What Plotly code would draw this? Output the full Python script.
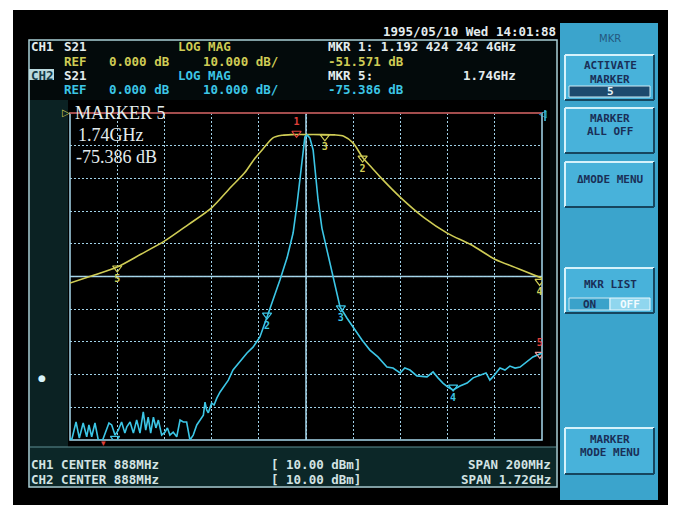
import plotly.graph_objects as go

# ---------------- data ----------------
# CH1: S21 LOG MAG, centre 888 MHz, span 200 MHz (yellow)
ch1_freq_mhz = [788, 798, 808, 818, 828, 838, 848, 856, 862, 866,
                870, 874, 878, 882, 888, 894, 900, 904, 908, 912,
                916, 920, 928, 938, 948, 958, 968, 978, 988]
ch1_db = [-52.0, -49.6, -47.1, -43.2, -39.2, -34.2, -29.0, -22.8, -18.3, -14.2,
          -10.8, -7.6, -6.8, -6.6, -6.6, -6.6, -6.7, -7.1, -9.2, -13.6,
          -16.8, -20.0, -25.8, -32.0, -36.8, -40.3, -44.7, -47.6, -50.5]

# CH2: S21 LOG MAG, centre 888 MHz, span 1.72 GHz (cyan)
ch2_freq_mhz = [28, 34, 50, 62, 76, 89, 97, 107, 119, 131,
                147, 162, 170, 180, 192, 204, 216, 228, 235, 247,
                259, 271, 283, 295, 304, 313, 322, 332, 341, 350,
                362, 374, 383, 392, 404, 417, 429, 441, 453, 465,
                477, 490, 502, 514, 520, 526, 532, 544, 553, 563,
                575, 593, 605, 622, 647, 673, 695, 720, 746, 768,
                793, 819, 841, 855, 866, 877, 884, 892, 902, 914,
                924, 932, 946, 965, 990, 1012, 1037, 1059, 1092, 1121,
                1150, 1183, 1205, 1231, 1248, 1267, 1292, 1329, 1351, 1369,
                1387, 1405, 1424, 1449, 1475, 1497, 1522, 1544, 1558, 1569,
                1595, 1613, 1631, 1650, 1668, 1693, 1715, 1748]
ch2_db = [-99.5, -100, -94.5, -99.4, -94.8, -99, -95.4, -99, -94.8, -100,
          -100, -96.3, -94.8, -95.4, -98.5, -97, -94.5, -97.9, -96, -94.5,
          -97.9, -93.9, -97.9, -91.4, -97, -93, -97.9, -93, -96.3, -93.9,
          -98.5, -97.6, -96.3, -98.5, -97.6, -99, -93.9, -94.5, -94.5, -100,
          -98.5, -95.4, -93.9, -92.4, -88.4, -90.8, -91.7, -88.7, -89.3, -87.2,
          -85.3, -83.2, -81.7, -78.6, -76.1, -73.4, -71.6, -68.5, -62.4, -57.2,
          -51.1, -44.3, -36.7, -28.1, -19.6, -11.9, -7.3, -6.7, -7.6, -11.3,
          -19, -26.6, -35.2, -41.9, -51.1, -59.3, -62.7, -65.4, -69.4, -72.5,
          -74.6, -77.7, -78, -79.5, -78, -78.6, -80.4, -80.7, -79.2, -81,
          -82.6, -83.8, -84.7, -83.5, -82.6, -81, -80.1, -79.5, -81.7, -80.7,
          -78, -78.6, -77.4, -78, -77.7, -76.1, -74.6, -73.4]

# markers
ch1_marker_labels = ["2", "3", "4", "5"]
ch1_marker_freq = [912, 896, 987, 808]
ch1_marker_db = [-13.8, -7.3, -51.5, -47.4]
ch1_active_label = ["1"]
ch1_active_freq = [884]
ch1_active_db = [-6.2]

ch2_marker_labels = ["1", "2", "3", "4"]
ch2_marker_freq = [192, 746, 1015, 1424]
ch2_marker_db = [-99.5, -61.8, -59.6, -83.8]
ch2_active_label = ["5"]
ch2_active_freq = [1740]
ch2_active_db = [-73.8]

ch1_axis_range = [788, 988]
ch2_axis_range = [28, 1748]
db_range = [-100, 0]

# ---------------- geometry helpers (pixel -> paper) ----------------
W, H = 676, 508
L, R, T, B = 70, 542, 113, 440


def px(x):
    return (x - L) / (R - L)


def py(y):
    return (B - y) / (B - T)


YEL = "#cfcc55"
CYN = "#3cc6e6"
RED = "#e0403a"
WHT = "#e4ecee"
MONO = "DejaVu Sans Mono"

fig = go.Figure()

fig.add_trace(go.Scatter(x=ch1_freq_mhz, y=ch1_db, mode="lines",
                         line=dict(color=YEL, width=1.6, shape="spline", smoothing=0.8),
                         xaxis="x", yaxis="y", hoverinfo="skip"))
fig.add_trace(go.Scatter(x=ch2_freq_mhz, y=ch2_db, mode="lines",
                         line=dict(color=CYN, width=1.6),
                         xaxis="x2", yaxis="y", hoverinfo="skip"))

mfont = dict(family=MONO, size=10, weight="bold")
fig.add_trace(go.Scatter(x=ch1_marker_freq, y=ch1_marker_db, mode="markers+text",
                         text=ch1_marker_labels, textposition="bottom center",
                         textfont=dict(color=YEL, **mfont),
                         marker=dict(symbol="triangle-down-open", size=8, color=YEL, line=dict(width=1.2)),
                         xaxis="x", yaxis="y", hoverinfo="skip"))
fig.add_trace(go.Scatter(x=ch1_active_freq, y=ch1_active_db, mode="markers+text",
                         text=ch1_active_label, textposition="top center",
                         textfont=dict(color=RED, **mfont),
                         marker=dict(symbol="triangle-down-open", size=8, color=RED, line=dict(width=1.2)),
                         xaxis="x", yaxis="y", hoverinfo="skip"))
fig.add_trace(go.Scatter(x=ch2_marker_freq, y=ch2_marker_db, mode="markers+text",
                         text=ch2_marker_labels, textposition="bottom center",
                         textfont=dict(color=CYN, **mfont),
                         marker=dict(symbol="triangle-down-open", size=8, color=CYN, line=dict(width=1.2)),
                         xaxis="x2", yaxis="y", hoverinfo="skip"))
fig.add_trace(go.Scatter(x=ch2_active_freq, y=ch2_active_db, mode="markers+text",
                         text=ch2_active_label, textposition="top center",
                         textfont=dict(color=RED, **mfont),
                         marker=dict(symbol="triangle-down-open", size=8, color="#e89a9a", line=dict(width=1.2)),
                         xaxis="x2", yaxis="y", hoverinfo="skip"))

shapes = []


def rect(x0, y0, x1, y1, fill, line=None, lw=0, layer="below"):
    shapes.append(dict(type="rect", xref="paper", yref="paper",
                       x0=px(x0), x1=px(x1), y0=py(y1), y1=py(y0),
                       fillcolor=fill, line=dict(color=line or fill, width=lw), layer=layer))


def seg(x0, y0, x1, y1, color, lw=1, layer="below", dash="solid"):
    shapes.append(dict(type="line", xref="paper", yref="paper",
                       x0=px(x0), x1=px(x1), y0=py(y0), y1=py(y1),
                       line=dict(color=color, width=lw, dash=dash), layer=layer))


# screen
rect(13, 10, 668, 505, "#000000")
rect(29, 40, 557, 487, "#030a0b", line="#a9cfd6", lw=1.5)
rect(30, 100, 68, 486, "#0b2223")
rect(30, 447, 556, 486, "#0c2728")
rect(68, 100, 550, 447, "#000000")
seg(30, 447, 556, 447, "#5f8f94", 1)

# grid centre lines & frame
seg(306, T, 306, B, "#a8d8ec", 1.5)
seg(L, 276.5, R, 276.5, "#a8d8ec", 1.5)
rect(L, T, R, B, "rgba(0,0,0,0)", line="#a8d8ec", lw=1.5)
seg(L, T, R, T, "#b0302c", 1.6, layer="above")
seg(545, 110, 545, 121, CYN, 1.5, layer="above")

# right soft-key panel
rect(560, 23, 658, 500, "#3ba4cc")


def button(x0, y0, x1, y1):
    rect(x0, y0, x1, y1, "#48b2da")
    seg(x0, y0, x1, y0, "#d6f2fb", 2)
    seg(x0, y0, x0, y1, "#d6f2fb", 2)
    seg(x0, y1, x1, y1, "#16455e", 2)
    seg(x1, y0, x1, y1, "#16455e", 2)


button(565, 55, 654, 100)
button(565, 108, 654, 153)
button(565, 162, 654, 207)
button(565, 268, 654, 313)
button(565, 428, 654, 474)
rect(569, 86, 650, 97, "#1d4a6e", line="#cfeaf3", lw=1)
rect(569, 298, 610, 310, "#3aa2ca", line="#cfeaf3", lw=1)
rect(610, 298, 650, 310, "#8fd6ee", line="#eaf8fd", lw=1)

# CH2 label box
rect(29, 69, 54, 80, "#b9d9de")

annotations = []


def txt(x, y, s, color, size=12.5, anchor="left", family=MONO, weight="bold"):
    annotations.append(dict(x=px(x), y=py(y), xref="paper", yref="paper", text=s,
                            showarrow=False, xanchor=anchor, yanchor="middle",
                            borderpad=0,
                            font=dict(family=family, size=size, color=color, weight=weight)))


# header
r1, r2, r3, r4 = 46.5, 61.2, 75.2, 89.6
txt(557, 32, "1995/05/10 Wed 14:01:88", WHT, anchor="right")
txt(30, r1, "CH1", WHT)
txt(63, r1, "S21", WHT)
txt(177, r1, "LOG MAG", YEL)
txt(327, r1, "MKR 1: 1.192 424 242 4GHz", WHT)
txt(63, r2, "REF", YEL)
txt(108, r2, "0.000 dB", YEL)
txt(202, r2, "10.000 dB/", YEL)
txt(327, r2, "-51.571 dB", YEL)
txt(30, r3, "CH2", "#123a46")
txt(63, r3, "S21", WHT)
txt(177, r3, "LOG MAG", CYN)
txt(327, r3, "MKR 5:", WHT)
txt(462, r3, "1.74GHz", WHT)
txt(63, r4, "REF", CYN)
txt(108, r4, "0.000 dB", CYN)
txt(202, r4, "10.000 dB/", CYN)
txt(327, r4, "-75.386 dB", CYN)

# footer
FT = "#d3e3e3"
txt(30, 464.5, "CH1 CENTER 888MHz", FT)
txt(30, 479, "CH2 CENTER 888MHz", FT)
txt(270, 464.5, "[ 10.00 dBm]", FT)
txt(270, 479, "[ 10.00 dBm]", FT)
txt(552, 464.5, "SPAN 200MHz", FT, anchor="right")
txt(552, 479, "SPAN 1.72GHz", FT, anchor="right")

# marker readout on the graticule
SER = "Liberation Serif"
txt(66, 112, "▷", YEL, size=10, anchor="center", family="DejaVu Sans", weight="normal")
txt(74, 112.5, "MARKER 5", WHT, size=18, family=SER, weight="normal")
txt(77, 134.5, "1.74GHz", WHT, size=18, family=SER, weight="normal")
txt(75, 156.5, "-75.386 dB", WHT, size=18, family=SER, weight="normal")
txt(543, 113, "◁", CYN, size=10, anchor="center", family="DejaVu Sans", weight="normal")
txt(42, 378, "●", "#d8f4fa", size=9, anchor="center", family="DejaVu Sans", weight="normal")
txt(103, 443, "▾", RED, size=9, anchor="center", family="DejaVu Sans", weight="normal")

# soft keys
NAVY = "#1a2f57"
txt(610, 38, "MKR", "#24577e", size=10, anchor="center", family="DejaVu Sans", weight="normal")
txt(610, 66, "ACTIVATE", NAVY, size=11, anchor="center")
txt(610, 79, "MARKER", NAVY, size=11, anchor="center")
txt(610, 91.5, "5", "#e8f4f8", size=11, anchor="center")
txt(610, 118, "MARKER", NAVY, size=11, anchor="center")
txt(610, 131, "ALL OFF", NAVY, size=11, anchor="center")
txt(610, 179, "ΔMODE MENU", NAVY, size=11, anchor="center")
txt(610, 284, "MKR LIST", NAVY, size=11, anchor="center")
txt(589, 304, "ON", NAVY, size=11, anchor="center")
txt(630, 304, "OFF", "#f2fbfe", size=11, anchor="center")
txt(610, 439, "MARKER", NAVY, size=11, anchor="center")
txt(610, 452, "MODE MENU", NAVY, size=11, anchor="center")

GRID = "#a2d2e8"
fig.update_layout(
    width=W, height=H,
    margin=dict(l=L, r=W - R, t=T, b=H - B, autoexpand=False),
    paper_bgcolor="#ffffff",
    plot_bgcolor="rgba(0,0,0,0)",
    showlegend=False,
    shapes=shapes,
    annotations=annotations,
    xaxis=dict(range=ch1_axis_range, tick0=788, dtick=20, showgrid=True,
               gridcolor=GRID, griddash="2px,2px", gridwidth=1,
               showticklabels=False, ticks="", zeroline=False, showline=False,
               fixedrange=True),
    xaxis2=dict(range=ch2_axis_range, overlaying="x", anchor="y", visible=False,
                fixedrange=True),
    yaxis=dict(range=db_range, tick0=0, dtick=10, showgrid=True,
               gridcolor=GRID, griddash="2px,2px", gridwidth=1,
               showticklabels=False, ticks="", zeroline=False, showline=False,
               fixedrange=True),
)

fig.write_html("out.html", config={"displayModeBar": False},
               post_script="document.body.style.margin='0px';document.body.style.overflow='hidden';")
